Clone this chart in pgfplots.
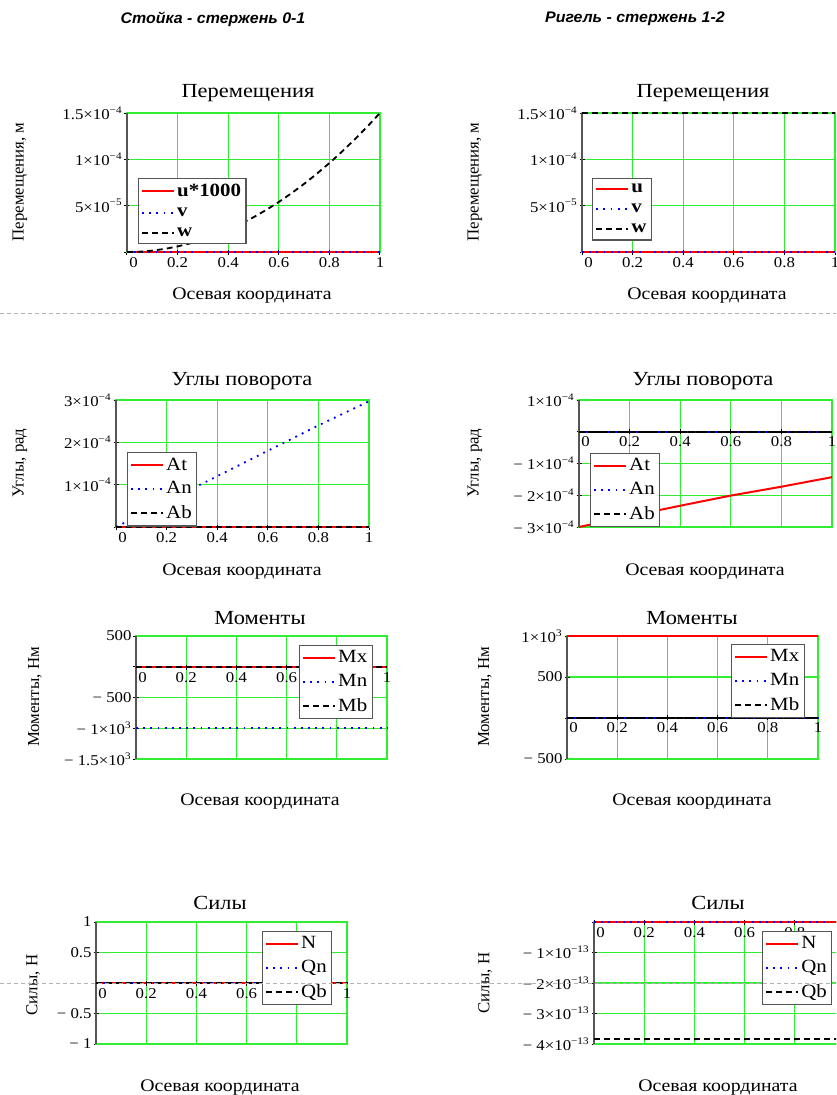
\documentclass[border=0pt]{standalone}
\usepackage{pgfplots}
\pgfplotsset{compat=1.18}
\usepackage{fontspec}
\setmainfont{Liberation Serif}[FakeStretch=1.12]
\newfontfamily\ylfont{Liberation Serif}
\newfontfamily\hdrfont{Liberation Sans}[FakeStretch=1.04]
\definecolor{gridgreen}{RGB}{50,238,50}
\definecolor{axgray}{RGB}{85,85,85}
\newcommand{\sci}[2]{#1×10\textsuperscript{#2}}
\newcommand{\ttl}{\fontsize{12}{13}\selectfont}
\newcommand{\lbl}{\fontsize{10.6}{12}\selectfont}
\newcommand{\yl}{\ylfont\fontsize{10.1}{12}\selectfont}
\newcommand{\lgf}{\fontsize{11.2}{12}\selectfont}
\pgfplotsset{
  mc/.style={
    scale only axis, clip=false, anchor=north west,
    xmin=0, xmax=1, xtick={0,0.2,0.4,0.6,0.8,1}, xticklabels={\hspace{8pt}0,0.2,0.4,0.6,0.8,1},
    scaled y ticks=false,
    grid=major, major grid style={draw=gridgreen,line width=0.8pt},
    axis line style={draw=gridgreen,line width=0.8pt},
    tick style={black,line width=0.6pt}, major tick length=3pt,
    xtick pos=bottom, ytick pos=left, tick align=center,
    ticklabel style={font=\fontsize{9}{10}\selectfont, text=black},
    xticklabel style={inner sep=1.5pt},
    yticklabel style={inner sep=1pt},
    legend cell align=left,
    legend image code/.code={\draw[##1] (0pt,0pt) -- (19pt,0pt);},
    legend style={draw=axgray, line width=0.8pt, fill=white, font=\lgf,
      inner sep=1.5pt, row sep=2.4pt, anchor=north west, nodes={inner sep=1.5pt}},
  },
  midx/.style={xticklabel style={yshift=#1}, every major x tick/.append style={yshift=#1}},
  rl/.style={draw=red, line width=1.2pt, no marks},
  bl/.style={draw=blue, line width=1.1pt, dash pattern=on 1.1pt off 3.2pt, no marks},
  kl/.style={draw=black, line width=1.1pt, dash pattern=on 3.5pt off 2.5pt, no marks},
}
\newcommand{\axlines}{%
  \draw[axgray, line width=1.2pt] (rel axis cs:0,0) -- (rel axis cs:0,1);
  \draw[black, line width=0.9pt] (axis cs:0,0) -- (axis cs:1,0);}
\begin{document}
\begin{tikzpicture}
\useasboundingbox (0,0) rectangle (501.6pt,-657pt);
\clip (0,0) rectangle (501.6pt,-657pt);

% headers
\node[font=\hdrfont\bfseries\itshape\fontsize{9.2}{10}\selectfont] at (127.8pt,-11.4pt) {Стойка - стержень 0-1};
\node[font=\hdrfont\bfseries\itshape\fontsize{9.2}{10}\selectfont] at (381pt,-11.4pt) {Ригель - стержень 1-2};

% ---------- Plot 1 ----------
\begin{axis}[mc, at={(76.2pt,-67.8pt)}, width=151.8pt, height=83.4pt,
  ymin=0, ymax=1.5e-4, ytick={0,5e-5,1e-4,1.5e-4},
  yticklabels={,\sci{5}{−5},\sci{1}{−4},\sci{1.5}{−4}},
  legend style={at={(0.043,0.532)}, font=\bfseries\lgf}]
\axlines
\addplot[rl] coordinates {(0,0) (1,0)}; \addlegendentry{u*1000}
\addplot[bl] coordinates {(0,0) (1,0)}; \addlegendentry{v}
\addplot[kl] coordinates {(0,0) (0.05,3.75e-7) (0.1,1.5e-6) (0.15,3.375e-6) (0.2,6e-6) (0.25,9.375e-6) (0.3,1.35e-5) (0.35,1.8375e-5) (0.4,2.4e-5) (0.45,3.0375e-5) (0.5,3.75e-5) (0.55,4.5375e-5) (0.6,5.4e-5) (0.65,6.3375e-5) (0.7,7.35e-5) (0.75,8.4375e-5) (0.8,9.6e-5) (0.85,1.08375e-4) (0.9,1.215e-4) (0.95,1.35375e-4) (1,1.5e-4)}; \addlegendentry{w}
\end{axis}
\node[font=\ttl] at (148.8pt,-55.8pt) {Перемещения};
\node[font=\lbl] at (151.2pt,-177.6pt) {Осевая координата};
\node[font=\yl, rotate=90] at (12pt,-109.2pt) {Перемещения, м};

% ---------- Plot 2 ----------
\begin{axis}[mc, at={(349.2pt,-67.8pt)}, width=151.8pt, height=83.4pt,
  ymin=0, ymax=1.5e-4, ytick={0,5e-5,1e-4,1.5e-4},
  yticklabels={,\sci{5}{−5},\sci{1}{−4},\sci{1.5}{−4}},
  legend style={at={(0.04,0.532)}, font=\bfseries\lgf}]
\axlines
\addplot[rl] coordinates {(0,0) (1,0)}; \addlegendentry{u}
\addplot[bl] coordinates {(0,0) (1,0)}; \addlegendentry{v}
\addplot[kl] coordinates {(0,1.5e-4) (1,1.5e-4)}; \addlegendentry{w}
\end{axis}
\node[font=\ttl] at (421.8pt,-55.8pt) {Перемещения};
\node[font=\lbl] at (424.2pt,-177.6pt) {Осевая координата};
\node[font=\yl, rotate=90] at (285pt,-109.2pt) {Перемещения, м};

\draw[gray!60, line width=0.6pt, dash pattern=on 2.4pt off 1.8pt] (0,-187.8pt) -- (501.6pt,-187.8pt);

% ---------- Plot 3 ----------
\begin{axis}[mc, at={(69.6pt,-240pt)}, width=151.8pt, height=76.2pt,
  ymin=0, ymax=3e-4, ytick={0,1e-4,2e-4,3e-4},
  yticklabels={,\sci{1}{−4},\sci{2}{−4},\sci{3}{−4}},
  legend style={at={(0.043,0.59)}}]
\axlines
\addplot[rl] coordinates {(0,0) (1,0)}; \addlegendentry{At}
\addplot[bl] coordinates {(0,0) (0.2,6e-5) (0.4,1.2e-4) (0.6,1.8e-4) (0.8,2.4e-4) (1,2.97e-4)}; \addlegendentry{An}
\addplot[kl] coordinates {(0,0) (1,0)}; \addlegendentry{Ab}
\end{axis}
\node[font=\ttl] at (145.2pt,-228.6pt) {Углы поворота};
\node[font=\lbl] at (145.2pt,-343.2pt) {Осевая координата};
\node[font=\yl, rotate=90] at (12pt,-277.8pt) {Углы, рад};

% ---------- Plot 4 ----------
\begin{axis}[mc, at={(347.4pt,-240pt)}, width=151.8pt, height=76.2pt,
  ymin=-3e-4, ymax=1e-4, ytick={-3e-4,-2e-4,-1e-4,0,1e-4},
  yticklabels={− \sci{3}{−4},− \sci{2}{−4},− \sci{1}{−4},,\sci{1}{−4}},
  midx=57.6pt,
  legend style={at={(0.043,0.583)}}]
\axlines
\addplot[rl] coordinates {(0,-3e-4) (0.2,-2.66e-4) (0.4,-2.33e-4) (0.6,-2.01e-4) (0.8,-1.73e-4) (1,-1.43e-4)}; \addlegendentry{At}
\addplot[bl] coordinates {(0,0) (1,0)}; \addlegendentry{An}
\addplot[kl] coordinates {(0,0) (1,0)}; \addlegendentry{Ab}
\end{axis}
\node[font=\ttl] at (421.8pt,-228.6pt) {Углы поворота};
\node[font=\lbl] at (423pt,-343.2pt) {Осевая координата};
\node[font=\yl, rotate=90] at (285pt,-277.8pt) {Углы, рад};

% ---------- Plot 5 ----------
\begin{axis}[mc, at={(81.6pt,-381.6pt)}, width=150.6pt, height=73.8pt,
  ymin=-1500, ymax=500, ytick={-1500,-1000,-500,0,500},
  yticklabels={− \sci{1.5}{3},− \sci{1}{3},− 500,,500},
  midx=55.2pt,
  legend style={at={(0.649,0.927)}}]
\axlines
\addplot[rl] coordinates {(0,0) (1,0)}; \addlegendentry{Mx}
\addplot[bl] coordinates {(0,-1000) (1,-1000)}; \addlegendentry{Mn}
\addplot[kl] coordinates {(0,0) (1,0)}; \addlegendentry{Mb}
\end{axis}
\node[font=\ttl] at (156pt,-370.8pt) {Моменты};
\node[font=\lbl] at (156pt,-481.2pt) {Осевая координата};
\node[font=\yl, rotate=90] at (21pt,-418.2pt) {Моменты, Нм};

% ---------- Plot 6 ----------
\begin{axis}[mc, at={(340.2pt,-381.6pt)}, width=150.6pt, height=73.8pt,
  ymin=-500, ymax=1000, ytick={-500,0,500,1000},
  yticklabels={− 500,,500,\sci{1}{3}},
  midx=25.2pt,
  legend style={at={(0.653,0.935)}}]
\axlines
\addplot[rl] coordinates {(0,1000) (1,1000)}; \addlegendentry{Mx}
\addplot[bl] coordinates {(0,0) (1,0)}; \addlegendentry{Mn}
\addplot[kl] coordinates {(0,0) (1,0)}; \addlegendentry{Mb}
\end{axis}
\node[font=\ttl] at (415.2pt,-370.8pt) {Моменты};
\node[font=\lbl] at (415.2pt,-481.2pt) {Осевая координата};
\node[font=\yl, rotate=90] at (291pt,-418.2pt) {Моменты, Нм};

% ---------- Plot 7 ----------
\begin{axis}[mc, at={(57.6pt,-553.2pt)}, width=150.6pt, height=73.2pt,
  ymin=-1, ymax=1, ytick={-1,-0.5,0,0.5,1},
  yticklabels={− 1,− 0.5,,0.5,1},
  midx=36.6pt,
  legend style={at={(0.661,0.926)}}]
\axlines
\addplot[rl] coordinates {(0,0) (1,0)}; \addlegendentry{N}
\addplot[bl] coordinates {(0,0) (1,0)}; \addlegendentry{Qn}
\addplot[kl] coordinates {(0,0) (1,0)}; \addlegendentry{Qb}
\end{axis}
\node[font=\ttl] at (132pt,-541.8pt) {Силы};
\node[font=\lbl] at (132pt,-652.8pt) {Осевая координата};
\node[font=\yl, rotate=90] at (19.8pt,-591pt) {Силы, Н};

% ---------- Plot 8 ----------
\begin{axis}[mc, at={(356.4pt,-553.2pt)}, width=150.6pt, height=73.2pt,
  ymin=-4e-13, ymax=0, ytick={-4e-13,-3e-13,-2e-13,-1e-13,0},
  yticklabels={− \sci{4}{−13},− \sci{3}{−13},− \sci{2}{−13},− \sci{1}{−13},},
  midx=73.2pt,
  legend style={at={(0.669,0.926)}}]
\axlines
\addplot[rl] coordinates {(0,0) (1,0)}; \addlegendentry{N}
\addplot[bl] coordinates {(0,0) (1,0)}; \addlegendentry{Qn}
\addplot[kl] coordinates {(0,-3.83e-13) (1,-3.83e-13)}; \addlegendentry{Qb}
\end{axis}
\node[font=\ttl] at (430.8pt,-541.8pt) {Силы};
\node[font=\lbl] at (430.8pt,-652.8pt) {Осевая координата};
\node[font=\yl, rotate=90] at (291pt,-589.8pt) {Силы, Н};

\draw[gray!60, line width=0.6pt, dash pattern=on 2.4pt off 1.8pt] (0,-589.8pt) -- (501.6pt,-589.8pt);
\end{tikzpicture}
\end{document}
